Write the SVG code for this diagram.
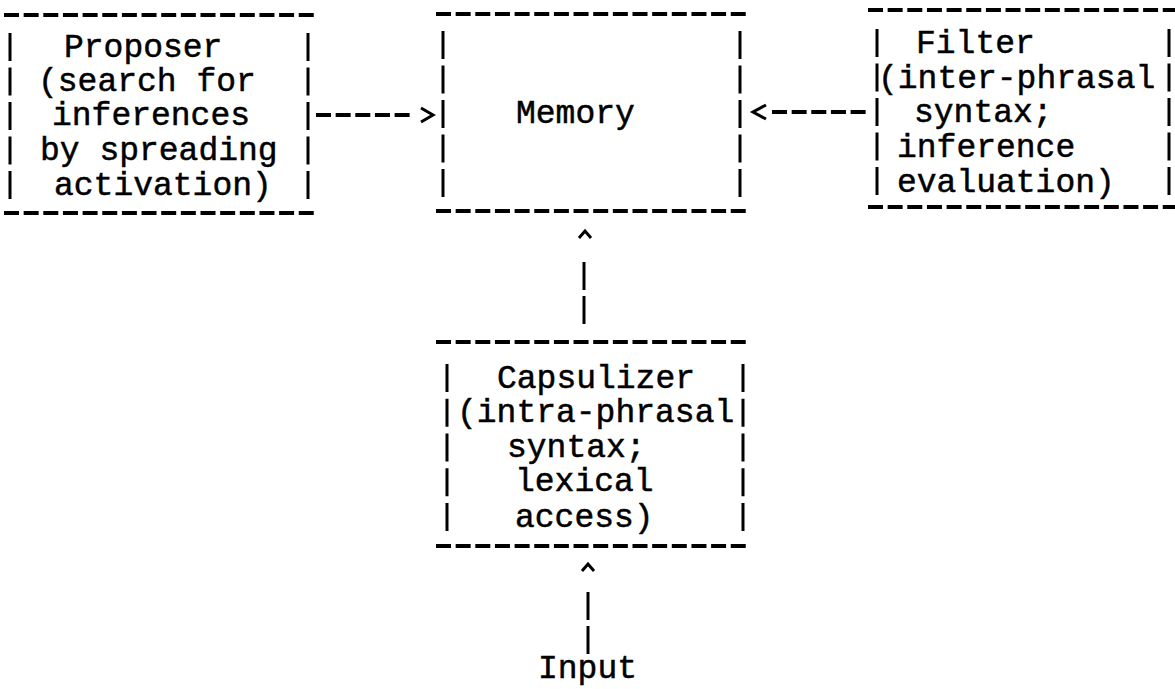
<svg xmlns="http://www.w3.org/2000/svg" width="1175" height="689" viewBox="0 0 1175 689">
  <style>
    .t { font-family: "Liberation Mono", "DejaVu Sans Mono", monospace; font-size: 33px; fill: #000; stroke: #000; stroke-width: 0.5; }
    .hd { stroke: #000; stroke-width: 4; stroke-dasharray: 15 4.65; fill: none; }
    .vb { stroke: #000; stroke-width: 3; stroke-dasharray: 28 6.5; fill: none; }
    .vb2 { stroke: #000; stroke-width: 3; stroke-dasharray: 28 6.75; fill: none; }
    .cd { stroke: #000; stroke-width: 4; stroke-dasharray: 15 4.65; fill: none; }
    .cv { stroke: #000; stroke-width: 3; fill: none; }
    .head { stroke: #000; stroke-width: 3; fill: none; stroke-linejoin: miter; }
  </style>
  <rect width="1175" height="689" fill="#fff"/>

  <g id="proposer">
    <line class="hd" x1="4" y1="15" x2="318" y2="15"/>
    <line class="hd" x1="4" y1="213" x2="318" y2="213"/>
    <line class="vb" x1="10" y1="33" x2="10" y2="199"/>
    <line class="vb" x1="308" y1="33" x2="308" y2="199"/>
    <text class="t" x="64" y="57">Proposer</text>
    <text class="t" x="38" y="91">(search for</text>
    <text class="t" x="52" y="125">inferences</text>
    <text class="t" x="40" y="160">by spreading</text>
    <text class="t" x="54" y="195">activation)</text>
  </g>

  <g id="memory">
    <line class="hd" x1="436" y1="14" x2="750" y2="14"/>
    <line class="hd" x1="436" y1="211" x2="750" y2="211"/>
    <line class="vb" x1="443" y1="31" x2="443" y2="197"/>
    <line class="vb" x1="740" y1="31" x2="740" y2="197"/>
    <text class="t" x="516" y="123">Memory</text>
  </g>

  <g id="filter">
    <line class="hd" x1="868" y1="10" x2="1183" y2="10"/>
    <line class="hd" x1="868" y1="207" x2="1183" y2="207"/>
    <line class="vb" x1="877" y1="29" x2="877" y2="195"/>
    <line class="vb" x1="1169" y1="29" x2="1169" y2="195"/>
    <text class="t" x="916" y="53">Filter</text>
    <text class="t" x="878" y="88">(inter-phrasal</text>
    <text class="t" x="914" y="122">syntax;</text>
    <text class="t" x="897" y="157">inference</text>
    <text class="t" x="897" y="192">evaluation)</text>
  </g>

  <g id="capsulizer">
    <line class="hd" x1="436" y1="342" x2="750" y2="342"/>
    <line class="hd" x1="436" y1="546" x2="750" y2="546"/>
    <line class="vb2" x1="447" y1="364" x2="447" y2="531"/>
    <line class="vb2" x1="743" y1="364" x2="743" y2="531"/>
    <text class="t" x="497" y="388">Capsulizer</text>
    <text class="t" x="457" y="422">(intra-phrasal</text>
    <text class="t" x="507" y="457">syntax;</text>
    <text class="t" x="515" y="491">lexical</text>
    <text class="t" x="515" y="527">access)</text>
  </g>

  <g id="input">
    <text class="t" x="538" y="678">Input</text>
  </g>

  <g id="connectors">
    <!-- Proposer -> Memory -->
    <line class="cd" x1="316" y1="115" x2="410" y2="115"/>
    <path class="head" d="M421,108 L433,115 L421,122"/>
    <!-- Filter -> Memory -->
    <line class="cd" x1="772" y1="112" x2="866" y2="112"/>
    <path class="head" d="M766,105 L753,112 L766,119"/>
    <!-- Capsulizer -> Memory -->
    <path class="head" d="M579,238 L585,231 L591,238"/>
    <line class="cv" x1="584" y1="262" x2="584" y2="290"/>
    <line class="cv" x1="584" y1="296" x2="584" y2="324"/>
    <!-- Input -> Capsulizer -->
    <path class="head" d="M582,571 L588,564 L594,571"/>
    <line class="cv" x1="588" y1="592" x2="588" y2="620"/>
    <line class="cv" x1="588" y1="626" x2="588" y2="654"/>
  </g>
</svg>
